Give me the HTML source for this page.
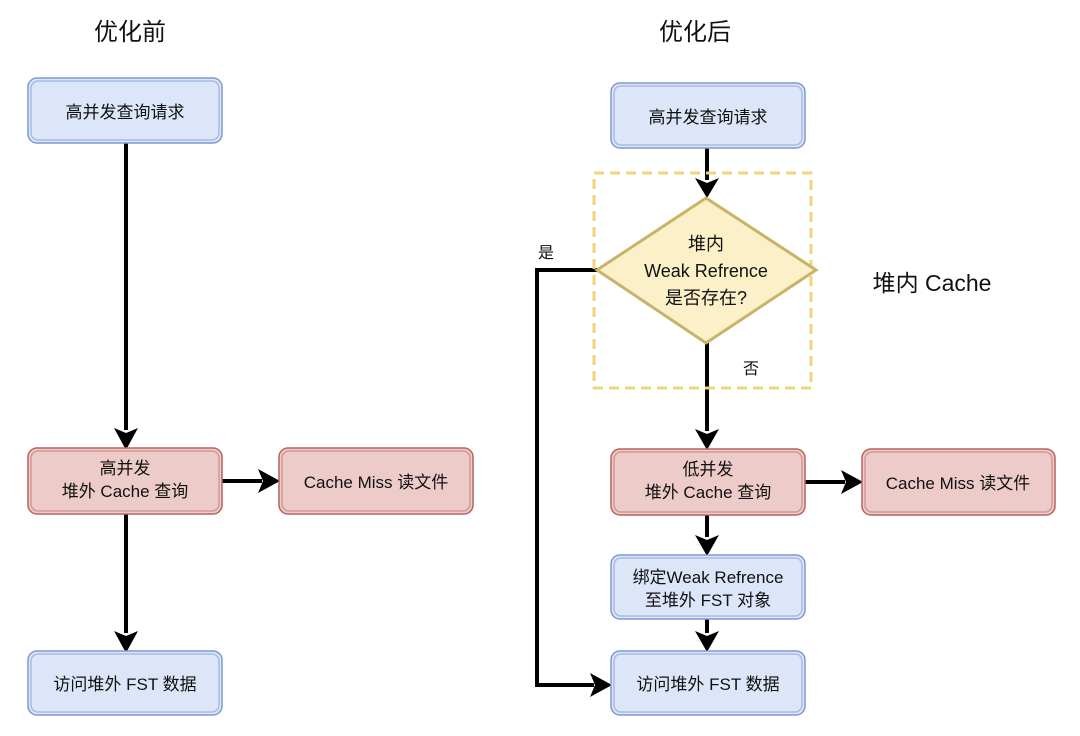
<!DOCTYPE html>
<html><head><meta charset="utf-8"><style>
body{margin:0;background:#fff;width:1080px;height:731px;overflow:hidden}
text{font-family:"Liberation Sans","Noto Sans CJK SC",sans-serif;fill:#111}
</style></head><body>
<svg width="1080" height="731" viewBox="0 0 1080 731" xmlns="http://www.w3.org/2000/svg">
<defs>
<marker id="ah" markerWidth="10" markerHeight="10" refX="8" refY="5" orient="auto" markerUnits="userSpaceOnUse">
</marker>
</defs>
<g font-size="17" text-anchor="middle">
<text x="130" y="40" font-size="24">优化前</text>
<text x="695" y="40" font-size="24">优化后</text>
<text x="932" y="291" font-size="23">堆内 Cache</text>
</g>

<!-- connectors -->
<g stroke="#000" stroke-width="4" fill="none">
<line x1="126" y1="143" x2="126" y2="430"/>
<line x1="222" y1="481" x2="262" y2="481"/>
<line x1="126" y1="514" x2="126" y2="633"/>
<line x1="707" y1="148" x2="707" y2="180"/>
<line x1="707" y1="343" x2="707" y2="431"/>
<line x1="805" y1="482" x2="845" y2="482"/>
<line x1="707" y1="515" x2="707" y2="537"/>
<line x1="707" y1="619" x2="707" y2="633"/>
<polyline points="597,270 537,270 537,685 594,685"/>
</g>
<g fill="#000">
<polygon points="114,428 126,450 138,428 126,433"/>
<polygon points="258,469 280,481 258,493 263,481"/>
<polygon points="114,631 126,653 138,631 126,636"/>
<polygon points="695,178 707,198 719,178 707,183"/>
<polygon points="695,429 707,450 719,429 707,434"/>
<polygon points="841,470 863,482 841,494 846,482"/>
<polygon points="695,535 707,556 719,535 707,540"/>
<polygon points="695,631 707,652 719,631 707,636"/>
<polygon points="590,673 612,685 590,697 595,685"/>
</g>

<!-- dashed group -->
<rect x="594" y="173" width="217" height="215" fill="none" stroke="#f2d675" stroke-width="3" stroke-dasharray="10,6"/>
<!-- diamond -->
<polygon points="706,198 816,270 706,343 597,270" fill="#fbf0c8" stroke="#c8b468" stroke-width="3"/>
<g font-size="18" text-anchor="middle">
<text x="706" y="250">堆内</text>
<text x="706" y="277">Weak Refrence</text>
<text x="706" y="304">是否存在?</text>
</g>
<text x="546" y="258" font-size="16" text-anchor="middle">是</text>
<text x="751" y="374" font-size="16" text-anchor="middle">否</text>

<!-- boxes -->
<g stroke-width="1.5">
<g fill="#dde6f8" stroke="#7d9ad0">
<rect x="28" y="78" width="194" height="65" rx="9"/>
<rect x="28" y="651" width="194" height="64" rx="9"/>
<rect x="611" y="83" width="194" height="65" rx="9"/>
<rect x="611" y="555" width="194" height="64" rx="9"/>
<rect x="611" y="651" width="194" height="64" rx="9"/>
</g>
<g fill="none" stroke="#a7bce4">
<rect x="31" y="81" width="188" height="59" rx="7"/>
<rect x="31" y="654" width="188" height="58" rx="7"/>
<rect x="614" y="86" width="188" height="59" rx="7"/>
<rect x="614" y="558" width="188" height="58" rx="7"/>
<rect x="614" y="654" width="188" height="58" rx="7"/>
</g>
<g fill="#eccbc9" stroke="#b9625e">
<rect x="28" y="448" width="194" height="66" rx="9"/>
<rect x="279" y="448" width="194" height="66" rx="9"/>
<rect x="611" y="449" width="194" height="66" rx="9"/>
<rect x="862" y="449" width="193" height="66" rx="9"/>
</g>
<g fill="none" stroke="#d09a97">
<rect x="31" y="451" width="188" height="60" rx="7"/>
<rect x="282" y="451" width="188" height="60" rx="7"/>
<rect x="614" y="452" width="188" height="60" rx="7"/>
<rect x="865" y="452" width="187" height="60" rx="7"/>
</g>
</g>
<g font-size="17" text-anchor="middle">
<text x="125" y="118">高并发查询请求</text>
<text x="125" y="474">高并发</text>
<text x="125" y="497">堆外 Cache 查询</text>
<text x="376" y="488">Cache Miss 读文件</text>
<text x="125" y="690">访问堆外 FST 数据</text>
<text x="708" y="123">高并发查询请求</text>
<text x="708" y="475">低并发</text>
<text x="708" y="498">堆外 Cache 查询</text>
<text x="958" y="489">Cache Miss 读文件</text>
<text x="708" y="583">绑定Weak Refrence</text>
<text x="708" y="606">至堆外 FST 对象</text>
<text x="708" y="690">访问堆外 FST 数据</text>
</g>
</svg>
</body></html>
